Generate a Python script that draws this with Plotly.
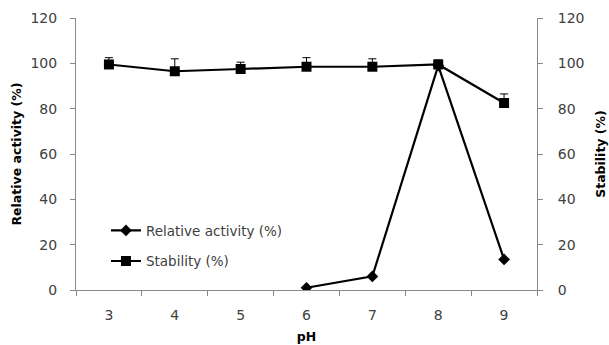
import plotly.graph_objects as go

ph = [3, 4, 5, 6, 7, 8, 9]
act_ph = [6, 7, 8, 9]
activity = [1, 6, 99, 13.5]
stability = [99.5, 96.5, 97.5, 98.5, 98.5, 99.5, 82.5]
stab_err = [3, 5.5, 3, 4, 3.5, 2, 4]

fig = go.Figure()
fig.add_trace(go.Scatter(
    x=act_ph, y=activity, name="Relative activity (%)", mode="lines+markers",
    line=dict(color="black", width=2.2),
    marker=dict(symbol="diamond", size=9, color="black"),
    legendgroup="a"))
fig.add_trace(go.Scatter(
    x=ph, y=stability, name="Stability (%)", mode="lines+markers",
    line=dict(color="black", width=2.2),
    marker=dict(symbol="square", size=10, color="black"),
    error_y=dict(type="data", array=stab_err, arrayminus=[0]*7, symmetric=False,
                 color="black", thickness=1, width=4),
    yaxis="y2", legendgroup="b"))

axis_font = dict(family="DejaVu Sans", size=14, color="#404040")
title_font = dict(family="DejaVu Sans", size=12.5, color="black")
fig.update_layout(
    width=609, height=345,
    margin=dict(l=76, r=72, t=18, b=55),
    paper_bgcolor="white", plot_bgcolor="white",
    font=dict(family="DejaVu Sans", size=12, color="#404040"),
    showlegend=True,
    legend=dict(x=0.065, y=0.275, xanchor="left", yanchor="top",
                bgcolor="rgba(0,0,0,0)", tracegroupgap=10,
                font=dict(family="DejaVu Sans", size=13.5, color="#404040")),
    xaxis=dict(range=[2.5, 9.5], tickvals=ph, ticktext=[str(v) for v in ph],
               ticks="", showline=True, linecolor="#888888", linewidth=1,
               showgrid=False, zeroline=False, tickfont=axis_font,
               ticklabelstandoff=12, automargin=False,
               minor=dict(tickmode="linear", tick0=2.5, dtick=1, ticks="outside",
                          ticklen=5, tickcolor="#888888", showgrid=False),
               title=dict(text="<b>pH</b>", font=title_font, standoff=10)),
    yaxis=dict(range=[0, 120], dtick=20, ticks="outside", ticklen=5, tickcolor="#888888",
               showline=True, linecolor="#888888", linewidth=1, showgrid=False,
               zeroline=False, tickfont=axis_font, ticklabelstandoff=10, automargin=False,
               title=dict(text="<b>Relative activity (%)</b>", font=title_font, standoff=6)),
    yaxis2=dict(range=[0, 120], dtick=20, ticks="outside", ticklen=5, tickcolor="#888888",
                overlaying="y", side="right", showline=True, linecolor="#888888",
                linewidth=1, showgrid=False, zeroline=False, tickfont=axis_font,
                ticklabelstandoff=12, automargin=False,
                title=dict(text="<b>Stability (%)</b>", font=title_font, standoff=12)),
)
fig.write_html("out.html")
